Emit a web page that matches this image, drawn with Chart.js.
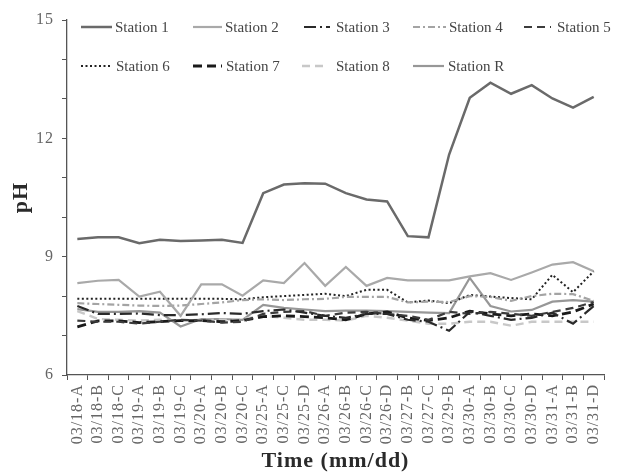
<!DOCTYPE html>
<html>
<head>
<meta charset="utf-8">
<script src="https://cdn.jsdelivr.net/npm/chart.js@4"></script>
<style>
  html, body { margin: 0; padding: 0; background: #fff; }
  #wrap { width: 617px; height: 472px; position: relative; }
</style>
</head>
<body>
<div id="wrap"><canvas id="c"></canvas></div>
<script>
// Sampling times (date + sampling round)
const categories = ["03/18-A","03/18-B","03/18-C","03/19-A","03/19-B","03/19-C","03/20-A","03/20-B","03/20-C",
  "03/25-A","03/25-C","03/25-D","03/26-A","03/26-B","03/26-C","03/26-D","03/27-B","03/27-C","03/29-B",
  "03/30-A","03/30-B","03/30-C","03/30-D","03/31-A","03/31-B","03/31-D"];

// pH readings per station
const station1 = [9.45, 9.49, 9.49, 9.34, 9.43, 9.40, 9.41, 9.43, 9.35, 10.61, 10.83, 10.86, 10.85, 10.61, 10.45, 10.40, 9.52, 9.49, 11.59, 13.03, 13.41, 13.13, 13.35, 13.01, 12.78, 13.05];
const station2 = [8.33, 8.39, 8.41, 7.99, 8.11, 7.50, 8.30, 8.30, 8.01, 8.40, 8.33, 8.84, 8.26, 8.74, 8.26, 8.46, 8.40, 8.40, 8.40, 8.50, 8.58, 8.41, 8.60, 8.80, 8.86, 8.63];
const station3 = [7.75, 7.55, 7.55, 7.56, 7.52, 7.52, 7.54, 7.57, 7.55, 7.62, 7.66, 7.58, 7.50, 7.45, 7.55, 7.55, 7.40, 7.35, 7.12, 7.60, 7.50, 7.40, 7.45, 7.58, 7.30, 7.75];
const station4 = [7.82, 7.80, 7.78, 7.76, 7.75, 7.76, 7.80, 7.84, 7.90, 7.92, 7.90, 7.92, 7.93, 7.98, 7.98, 7.98, 7.84, 7.86, 7.85, 8.00, 7.98, 7.88, 8.00, 8.06, 8.05, 7.88];
const station5 = [7.38, 7.35, 7.35, 7.30, 7.35, 7.40, 7.38, 7.33, 7.35, 7.55, 7.60, 7.62, 7.50, 7.58, 7.60, 7.55, 7.50, 7.40, 7.60, 7.55, 7.60, 7.55, 7.50, 7.60, 7.70, 7.85];
const station6 = [7.93, 7.93, 7.93, 7.93, 7.93, 7.93, 7.93, 7.93, 7.92, 7.97, 8.00, 8.03, 8.06, 8.00, 8.16, 8.16, 7.84, 7.89, 7.82, 8.03, 7.99, 7.95, 7.92, 8.54, 8.10, 8.63];
const station7 = [7.22, 7.37, 7.37, 7.33, 7.35, 7.38, 7.38, 7.35, 7.38, 7.48, 7.50, 7.48, 7.45, 7.40, 7.55, 7.60, 7.45, 7.38, 7.45, 7.62, 7.55, 7.50, 7.55, 7.50, 7.60, 7.80];
const station8 = [7.62, 7.42, 7.40, 7.38, 7.40, 7.38, 7.40, 7.40, 7.42, 7.50, 7.45, 7.40, 7.40, 7.38, 7.50, 7.45, 7.38, 7.30, 7.30, 7.35, 7.35, 7.25, 7.35, 7.35, 7.35, 7.35];
const stationR = [7.67, 7.60, 7.60, 7.62, 7.58, 7.23, 7.42, 7.42, 7.40, 7.78, 7.70, 7.66, 7.62, 7.63, 7.63, 7.62, 7.60, 7.58, 7.57, 8.46, 7.75, 7.61, 7.65, 7.86, 7.90, 7.86];

const seriesNames = ["Station 1","Station 2","Station 3","Station 4","Station 5","Station 6","Station 7","Station 8","Station R"];
const yTickLabels = [6, 9, 12, 15];

const SERIF = "'Liberation Serif', 'DejaVu Serif', serif";

function line(label, data, color, width, dash) {
  return { label, data, borderColor: color, backgroundColor: color, borderWidth: width,
           borderDash: dash, pointRadius: 0, tension: 0, fill: false };
}

const datasets = [
  line(seriesNames[0], station1, '#6a6a6a', 2.5, []),
  line(seriesNames[1], station2, '#a9a9a9', 2.2, []),
  line(seriesNames[2], station3, '#2a2a2a', 2.2, [12, 4, 2, 4]),
  line(seriesNames[3], station4, '#a4a4a4', 2.2, [7, 3, 2, 3]),
  line(seriesNames[4], station5, '#3c3c3c', 2.2, [8, 5]),
  line(seriesNames[5], station6, '#222222', 2.0, [2, 2.5]),
  line(seriesNames[6], station7, '#1a1a1a', 2.8, [9, 5]),
  line(seriesNames[7], station8, '#c8c8c8', 2.4, [8, 5]),
  line(seriesNames[8], stationR, '#979797', 2.2, [])
];

// Slightly open letter spacing for the axis text
const textSpacing = {
  id: 'textSpacing',
  beforeDraw(chart) { chart.ctx.letterSpacing = '1px'; },
  afterDatasetsDraw(chart) { chart.ctx.letterSpacing = '0px'; }
};

// Two-row legend drawn inside the top of the plot area: [lineStart, lineEnd, textStart, y]
const legendSlots = [
  [81, 112, 115, 27], [193, 222, 225, 27], [304, 330, 336, 27], [413, 446, 449, 27], [524, 551, 557, 27],
  [81, 112, 116, 66], [193, 222, 226, 66], [302, 328, 336, 66], [413, 444, 448, 66]
];
const insideLegend = {
  id: 'insideLegend',
  afterDraw(chart) {
    const ctx = chart.ctx;
    ctx.save();
    ctx.letterSpacing = '0px';
    chart.data.datasets.forEach((ds, i) => {
      const [x0, x1, tx, y] = legendSlots[i];
      ctx.beginPath();
      ctx.strokeStyle = ds.borderColor;
      ctx.lineWidth = ds.borderWidth;
      ctx.setLineDash(ds.borderDash || []);
      ctx.moveTo(x0, y);
      ctx.lineTo(x1, y);
      ctx.stroke();
      ctx.setLineDash([]);
      ctx.fillStyle = '#444';
      ctx.font = "15px " + SERIF;
      ctx.textBaseline = 'middle';
      ctx.textAlign = 'left';
      ctx.fillText(ds.label, tx, y + 1);
    });
    ctx.restore();
  }
};

new Chart(document.getElementById('c'), {
  type: 'line',
  data: { labels: categories, datasets },
  plugins: [textSpacing, insideLegend],
  options: {
    responsive: true,
    maintainAspectRatio: false,
    animation: false,
    layout: { padding: { left: 0, right: 5, top: 20, bottom: 0 } },
    plugins: { legend: { display: false }, tooltip: { enabled: false } },
    scales: {
      x: {
        type: 'category',
        offset: true,
        grid: { offset: true, drawOnChartArea: false, drawTicks: true, tickLength: 5, color: '#555' },
        border: { color: '#555', width: 1.3 },
        ticks: { autoSkip: false, minRotation: 90, maxRotation: 90, padding: 4, color: '#666',
                 font: { family: SERIF, size: 16 } },
        title: { display: true, text: 'Time (mm/dd)', color: '#2a2a2a', padding: { top: 4, bottom: 0 },
                 font: { family: SERIF, size: 22, weight: 'bold', lineHeight: 1.0 } },
        afterFit(scale) { scale.height = 97; }
      },
      y: {
        min: 6, max: 15,
        grid: { drawOnChartArea: false, drawTicks: true, tickLength: 5, color: '#555' },
        border: { color: '#555', width: 1.3 },
        ticks: { stepSize: 1, padding: 8, color: '#666', font: { family: SERIF, size: 16 },
                 callback: (v) => yTickLabels.includes(v) ? String(v) : '' },
        title: { display: true, text: 'pH', color: '#2a2a2a', padding: { top: 8, bottom: 0 },
                 font: { family: SERIF, size: 22, weight: 'bold' } },
        afterFit(scale) { scale.width = 67; }
      }
    }
  }
});
</script>
</body>
</html>
